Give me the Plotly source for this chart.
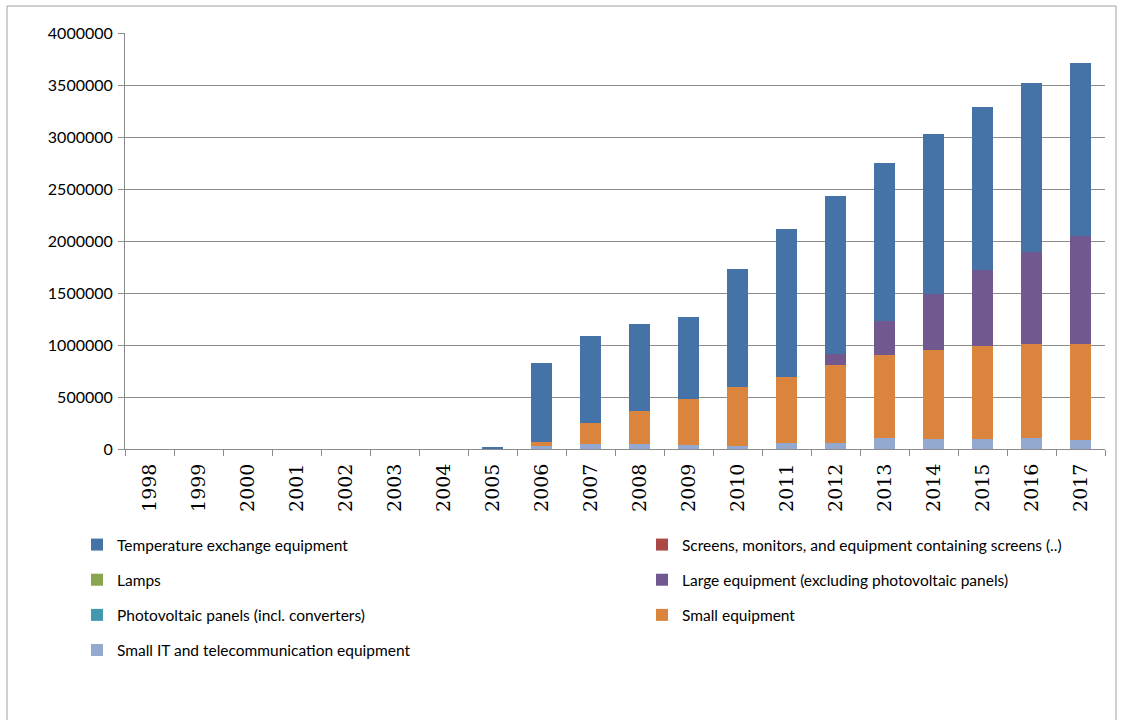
import plotly.graph_objects as go

years = [str(y) for y in range(1998, 2018)]

temperature_exchange = [0, 0, 0, 0, 0, 0, 0, 10000, 755000, 837000, 834000, 794000,
                        1130000, 1421000, 1515000, 1525000, 1543000, 1576000, 1624000, 1662000]
screens = [0] * 20
lamps = [0] * 20
large_equipment = [0, 0, 0, 0, 0, 0, 0, 0, 0, 0, 0, 0,
                   0, 0, 106000, 320000, 537000, 726000, 878000, 1032000]
photovoltaic = [0] * 20
small_equipment = [0, 0, 0, 0, 0, 0, 0, 0, 42000, 204000, 316000, 437000,
                   567000, 638000, 757000, 805000, 853000, 895000, 911000, 927000]
small_it = [0, 0, 0, 0, 0, 0, 0, 5000, 28000, 48000, 48000, 40000,
            30000, 55000, 55000, 103000, 96000, 96000, 103000, 87000]

y_ticks = [0, 500000, 1000000, 1500000, 2000000, 2500000, 3000000, 3500000, 4000000]

# stacking order bottom -> top ; legend placement (legend id, rank)
series = [
    ("Small IT and telecommunication equipment", small_it, "#93A9CF", "legend", 4),
    ("Small equipment", small_equipment, "#DB843D", "legend2", 3),
    ("Photovoltaic panels (incl. converters)", photovoltaic, "#4198AF", "legend", 3),
    ("Large equipment (excluding photovoltaic panels)", large_equipment, "#71588F", "legend2", 2),
    ("Lamps", lamps, "#89A54E", "legend", 2),
    ("Screens, monitors, and equipment containing screens (..)", screens, "#AA4643", "legend2", 1),
    ("Temperature exchange equipment", temperature_exchange, "#4572A7", "legend", 1),
]

fig = go.Figure()
for name, vals, color, leg, rank in series:
    fig.add_trace(go.Bar(
        x=years, y=vals, name=name, marker=dict(color=color, line=dict(width=0)),
        legend=leg, legendrank=rank, legendgroup=name,
    ))

narrow = "Lato, sans-serif"
W, H = 1122, 720
L, R, T, B = 125, 17, 33, 271
pw, ph = W - L - R, H - T - B

def px_x(px):
    return (px - L) / pw

def px_y(py):
    return (H - B - py) / ph

legend_common = dict(
    orientation="v", traceorder="grouped", tracegroupgap=12,
    font=dict(family=narrow, size=15.5, color="#000000"),
    bgcolor="rgba(0,0,0,0)", yanchor="top", xanchor="left",
    itemwidth=30,
)

fig.update_layout(
    width=W, height=H,
    margin=dict(l=L, r=R, t=T, b=B, autoexpand=False),
    paper_bgcolor="white", plot_bgcolor="white",
    barmode="stack", bargap=0.59,
    showlegend=True,
    legend=dict(x=px_x(77), y=px_y(528), **legend_common),
    legend2=dict(x=px_x(642), y=px_y(528), **legend_common),
    xaxis=dict(
        type="category", tickangle=-90, tickson="boundaries", ticks="outside",
        ticklen=6, tickcolor="#8c8c8c", showline=True, linecolor="#8c8c8c",
        showgrid=False, ticklabelstandoff=6,
        tickfont=dict(family="DejaVu Serif", size=19, color="#000000"),
    ),
    yaxis=dict(
        range=[0, 4000000], tickvals=y_ticks, ticktext=[str(v) for v in y_ticks],
        ticks="outside", ticklen=6, tickcolor="#8c8c8c", showline=True,
        linecolor="#8c8c8c", showgrid=True, gridcolor="#8c8c8c", gridwidth=1,
        zeroline=False, ticklabelstandoff=2,
        tickfont=dict(family=narrow, size=16, color="#000000"),
    ),
    shapes=[dict(type="rect", xref="paper", yref="paper",
                 x0=px_x(7), x1=px_x(1116), y0=px_y(730), y1=px_y(6),
                 line=dict(color="#a0a0a0", width=1), fillcolor="rgba(0,0,0,0)",
                 layer="below")],
)

fig.write_html("out.html")
